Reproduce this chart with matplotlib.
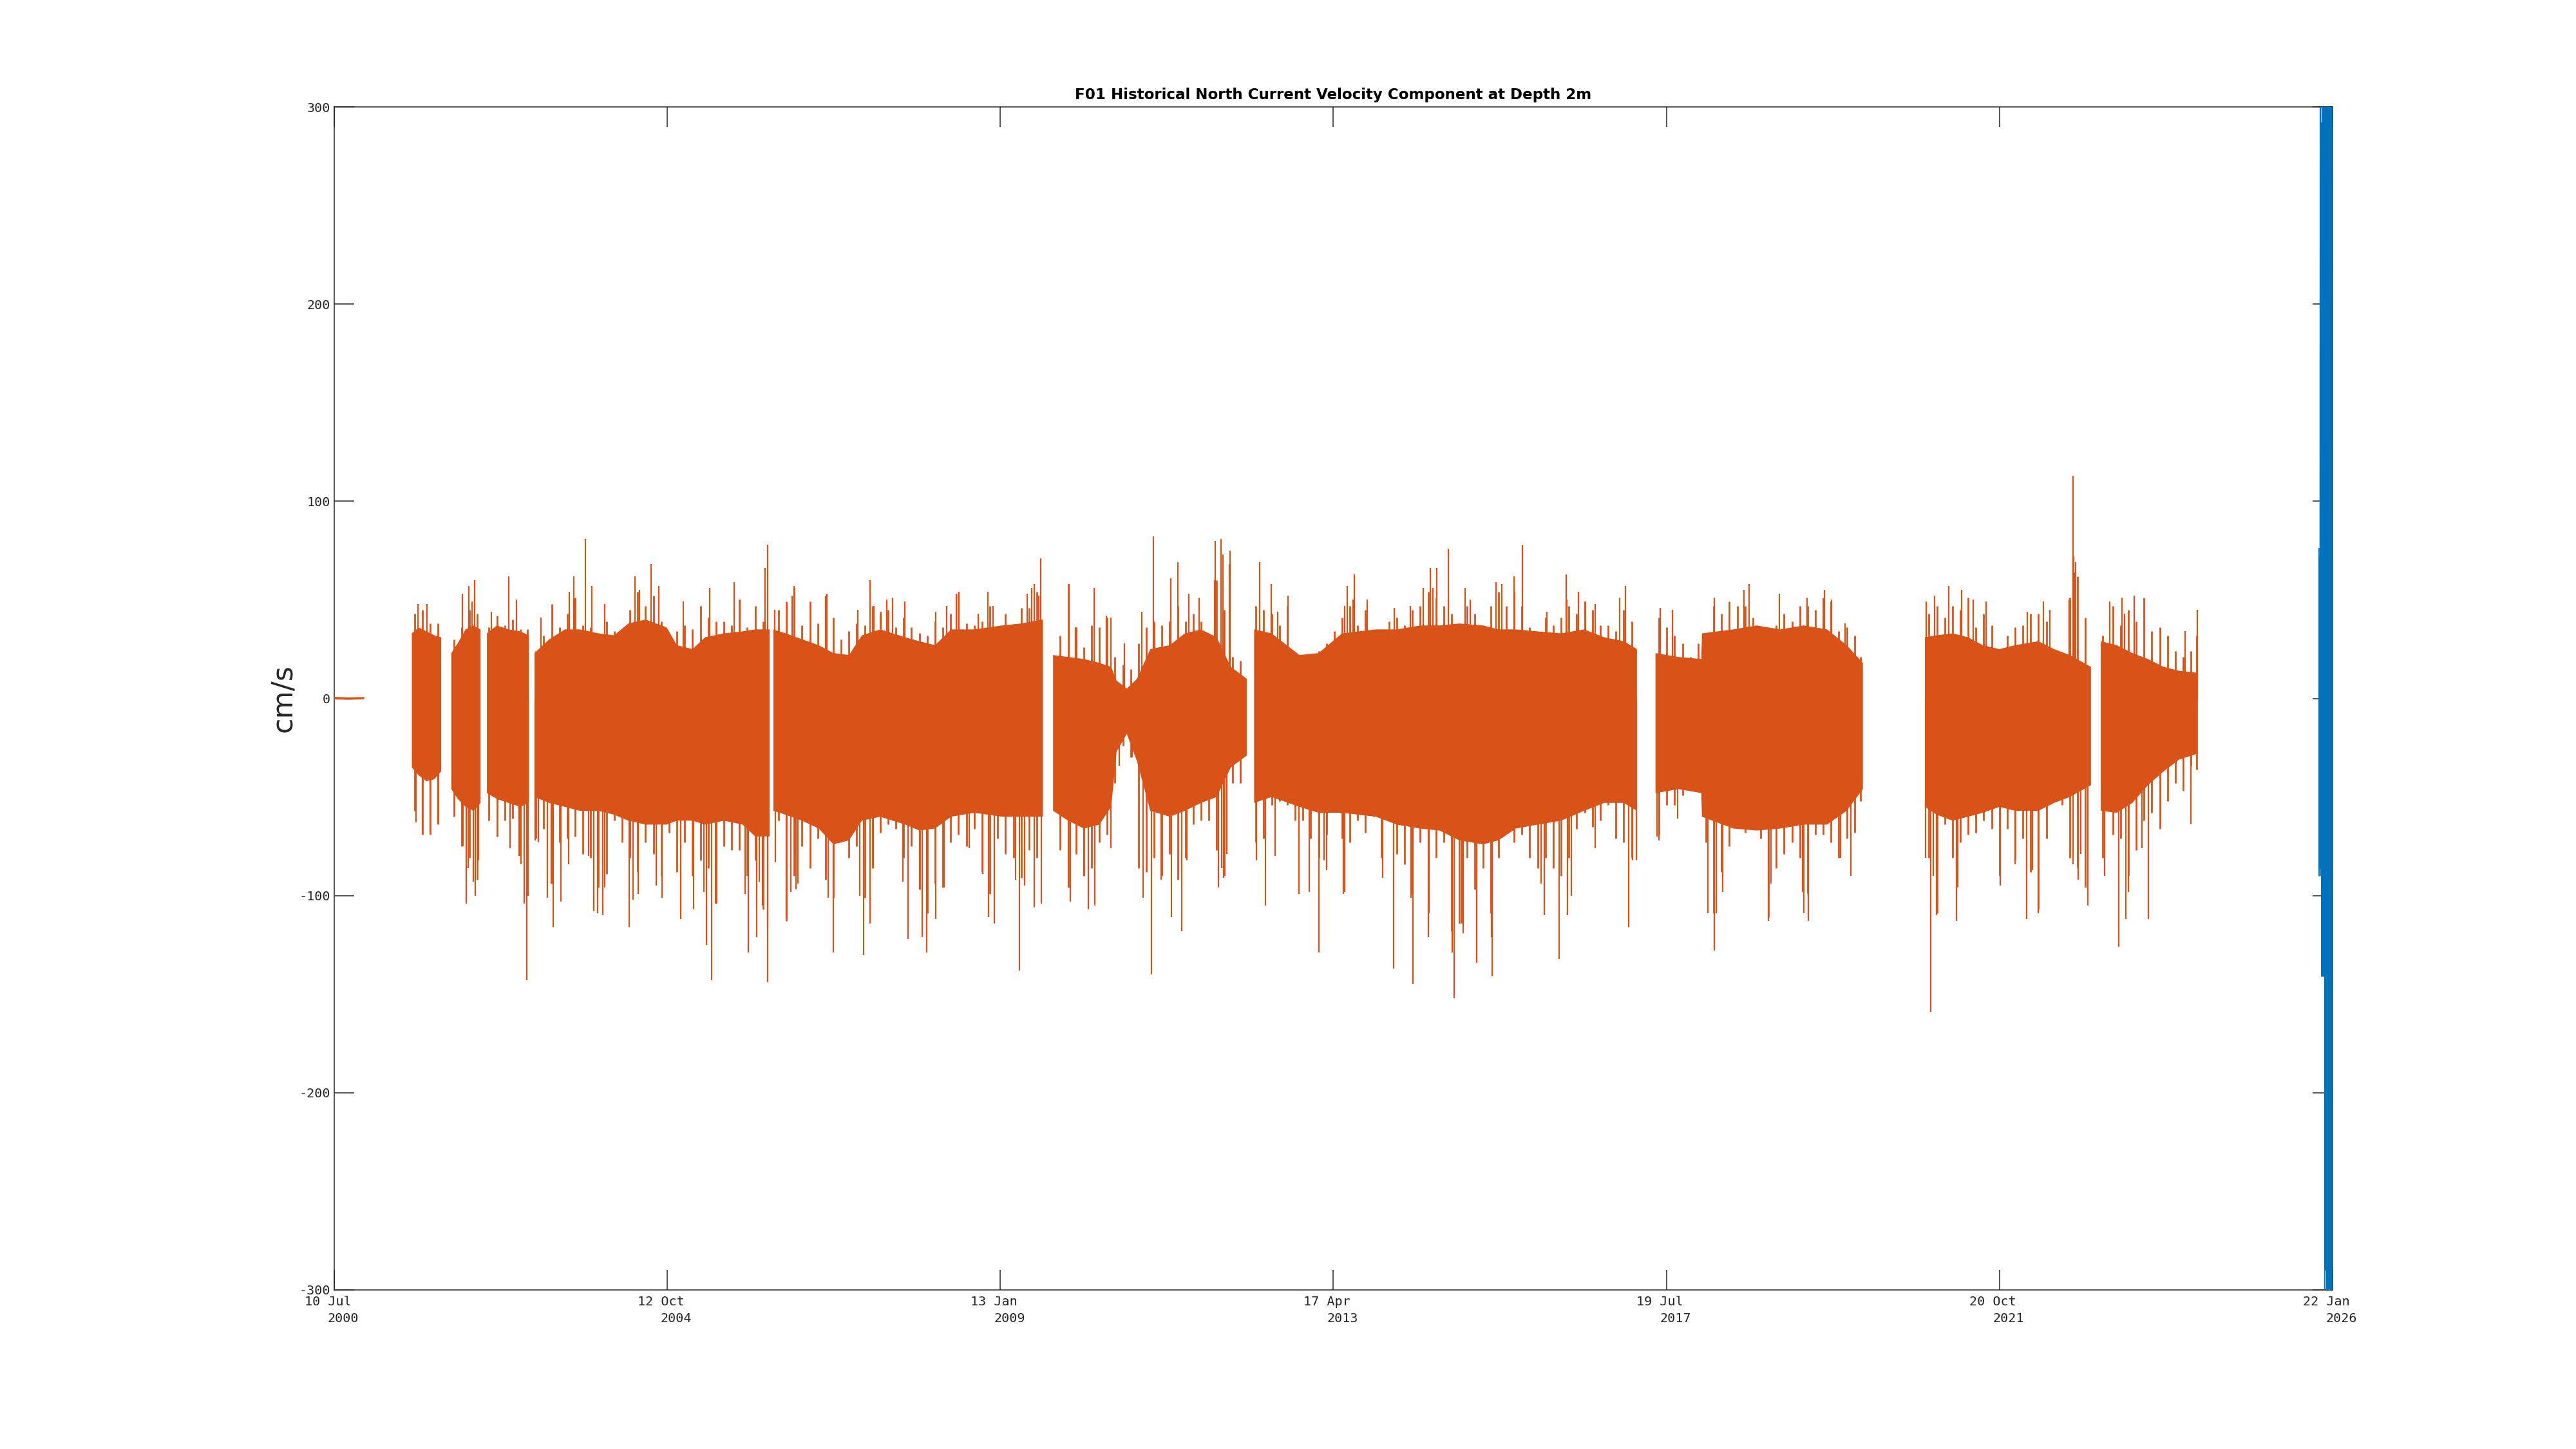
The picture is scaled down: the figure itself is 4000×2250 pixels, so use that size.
#!/usr/bin/env python3

from datetime import datetime

import numpy as np
import matplotlib
matplotlib.use("Agg")
import matplotlib.pyplot as plt
import matplotlib.dates as mdates
from matplotlib.transforms import ScaledTranslation, blended_transform_factory

OUTPUT_FNAME = "out.png"

ORANGE = "#D95319"
BLUE = "#0072BD"
AXIS_COLOR = "#262626"

TITLE = "F01 Historical North Current Velocity Component at Depth 2m"
YLABEL = "cm/s"

x_start = datetime(2000, 7, 10)
x_end = datetime(2026, 1, 22)
tick_days = ["10 Jul", "12 Oct", "13 Jan", "17 Apr", "19 Jul", "20 Oct", "22 Jan"]
tick_years = ["2000", "2004", "2009", "2013", "2017", "2021", "2026"]
y_ticks = [-300, -200, -100, 0, 100, 200, 300]
y_tick_labels = ["-300", "-200", "-100", "0", "100", "200", "300"]

# historical record: solid band (decimal year, upper, lower), nan = gap between deployments
env_t = [2000.521, 2000.7, 2000.905, np.nan,
         2001.513, 2001.6, 2001.7, 2001.8, 2001.888, np.nan,
         2002.018, 2002.1, 2002.2, 2002.3, 2002.392, np.nan,
         2002.473, 2002.6, 2002.75, 2002.9, 2003.010, np.nan,
         2003.082, 2003.27, 2003.47, 2003.66, 2003.9, 2004.1, 2004.28, 2004.5,
         2004.77, 2004.9, 2005.1, 2005.26, 2005.5, 2005.74, 2005.9, 2006.085, np.nan,
         2006.134, 2006.29, 2006.5, 2006.713, 2006.9, 2007.1, 2007.266, 2007.5,
         2007.82, 2008.0, 2008.2, 2008.405, 2008.7, 2009.056, 2009.3, 2009.577, np.nan,
         2009.707, 2009.9, 2010.1, 2010.3, 2010.45, 2010.52, 2010.65, 2010.781,
         2010.95, 2011.2, 2011.392, 2011.6, 2011.8, 2011.98, 2012.183, np.nan,
         2012.277, 2012.5, 2012.856, 2013.1, 2013.4, 2013.833, 2014.1, 2014.4,
         2014.646, 2014.9, 2015.2, 2015.4, 2015.622, 2015.9, 2016.2, 2016.494,
         2016.75, 2017.0, 2017.168, np.nan,
         2017.405, 2017.7, 2017.99, 2018.0, 2018.4, 2018.7, 2019.0, 2019.3,
         2019.6, 2019.85, 2020.057, np.nan,
         2020.848, 2021.0, 2021.2, 2021.4, 2021.589, 2021.8, 2022.0, 2022.3,
         2022.5, 2022.7, 2022.971, np.nan,
         2023.096, 2023.3, 2023.5, 2023.7, 2023.9, 2024.1, 2024.332]
env_hi = [0.8, 0.5, 0.7, np.nan,
          33, 36, 34, 32, 31, np.nan,
          23, 28, 35, 37, 35, np.nan,
          33, 37, 35, 34, 32, np.nan,
          23, 30, 35, 35, 33, 32, 38, 40, 36, 27, 25, 31, 33, 34, 35, 35, np.nan,
          35, 33, 30, 27, 23, 22, 32, 35, 31, 29, 27, 35, 35, 37, 38, 40, np.nan,
          22, 21, 20, 18, 16, 9, 5, 10, 25, 27, 33, 35, 31, 16, 10, np.nan,
          35, 33, 22, 23, 33, 35, 35, 37, 37, 38, 37, 35, 35, 34, 33, 35, 31, 29, 25, np.nan,
          23, 21, 20, 33, 35, 37, 35, 37, 35, 27, 18, np.nan,
          31, 32, 33, 31, 27, 25, 27, 29, 25, 22, 16, np.nan,
          29, 27, 23, 20, 16, 14, 13]
env_lo = [-0.5, -0.7, -0.4, np.nan,
          -35, -39, -42, -41, -37, np.nan,
          -46, -51, -55, -57, -53, np.nan,
          -48, -51, -53, -55, -53, np.nan,
          -50, -53, -55, -57, -57, -59, -62, -64, -64, -62, -62, -64, -62, -64, -70, -70, np.nan,
          -57, -59, -62, -66, -74, -72, -62, -60, -64, -67, -66, -60, -58, -60, -60, -60, np.nan,
          -57, -62, -66, -64, -55, -27, -18, -32, -57, -60, -57, -53, -50, -35, -29, np.nan,
          -53, -50, -55, -58, -58, -60, -64, -66, -67, -72, -74, -72, -66, -64, -62, -57, -53, -53, -57, np.nan,
          -48, -46, -48, -60, -66, -67, -66, -64, -64, -57, -46, np.nan,
          -55, -59, -62, -60, -58, -55, -57, -57, -53, -50, -44, np.nan,
          -57, -58, -53, -44, -37, -31, -28]

# column extremes about every 0.1 yr, giving the ragged edge of the band
fuzz_t = [2001.55, 2001.65, 2001.75, 2001.85,
          2002.05, 2002.15, 2002.25, 2002.35,
          2002.5, 2002.6, 2002.7, 2002.8, 2002.9, 2002.99,
          2003.1, 2003.2, 2003.3, 2003.4, 2003.5, 2003.6, 2003.7, 2003.8, 2003.9, 2004.0,
          2004.1, 2004.2, 2004.3, 2004.4, 2004.5, 2004.6, 2004.7, 2004.8, 2004.9, 2005.0,
          2005.1, 2005.2, 2005.3, 2005.4, 2005.5, 2005.6, 2005.7, 2005.8, 2005.9, 2006.0,
          2006.2, 2006.3, 2006.4, 2006.5, 2006.6, 2006.7, 2006.8, 2006.9, 2007.0, 2007.1,
          2007.2, 2007.3, 2007.4, 2007.5, 2007.6, 2007.7, 2007.8, 2007.9, 2008.0, 2008.1,
          2008.2, 2008.3, 2008.4, 2008.5, 2008.6, 2008.7, 2008.8, 2008.9, 2009.0, 2009.1,
          2009.2, 2009.3, 2009.4, 2009.5,
          2009.8, 2009.9, 2010.0, 2010.1, 2010.2, 2010.3, 2010.4, 2010.5, 2010.6, 2010.7,
          2010.8, 2010.9, 2011.0, 2011.1, 2011.2, 2011.3, 2011.4, 2011.5, 2011.6, 2011.7,
          2011.8, 2011.9, 2012.0, 2012.1,
          2012.3, 2012.4, 2012.5, 2012.6, 2012.7, 2012.8, 2012.9, 2013.0, 2013.1, 2013.2,
          2013.3, 2013.4, 2013.5, 2013.6, 2013.7, 2013.8, 2013.9, 2014.0, 2014.1, 2014.2,
          2014.3, 2014.4, 2014.5, 2014.6, 2014.7, 2014.8, 2014.9, 2015.0, 2015.1, 2015.2,
          2015.3, 2015.4, 2015.5, 2015.6, 2015.7, 2015.8, 2015.9, 2016.0, 2016.1, 2016.2,
          2016.3, 2016.4, 2016.5, 2016.6, 2016.7, 2016.8, 2016.9, 2017.0, 2017.1,
          2017.45, 2017.55, 2017.65, 2017.75, 2017.85, 2017.95, 2018.05, 2018.15, 2018.25,
          2018.35, 2018.45, 2018.55, 2018.65, 2018.75, 2018.85, 2018.95, 2019.05, 2019.15,
          2019.25, 2019.35, 2019.45, 2019.55, 2019.65, 2019.75, 2019.85, 2019.95, 2020.03,
          2020.9, 2021.0, 2021.1, 2021.2, 2021.3, 2021.4, 2021.5, 2021.6, 2021.7, 2021.8,
          2021.9, 2022.0, 2022.1, 2022.2, 2022.3, 2022.4, 2022.5, 2022.6, 2022.7, 2022.8,
          2022.9,
          2023.12, 2023.25, 2023.35, 2023.45, 2023.55, 2023.65, 2023.75, 2023.85, 2023.95,
          2024.05, 2024.15, 2024.25, 2024.32]
fuzz_hi = [43, 45, 38, 38,
           30, 36, 45, 43,
           36, 42, 37, 40, 35, 35,
           24, 32, 48, 36, 43, 51, 37, 36, 32, 39,
           34, 32, 45, 54, 47, 52, 39, 24, 34, 37,
           35, 47, 41, 39, 39, 37, 50, 36, 47, 39,
           45, 49, 56, 37, 49, 38, 52, 41, 30, 34,
           38, 37, 47, 43, 45, 36, 41, 36, 33, 32,
           39, 36, 43, 53, 38, 37, 39, 47, 36, 43,
           37, 46, 46, 54,
           32, 58, 36, 26, 37, 36, 41, 21, 17, 15,
           28, 36, 39, 37, 39, 47, 39, 43, 39, 26,
           60, 45, 21, 19,
           47, 45, 43, 37, 47, 21, 17, 21, 24, 28,
           34, 41, 47, 37, 45, 34, 32, 39, 41, 37,
           45, 47, 54, 51, 47, 43, 37, 47, 43, 37,
           47, 54, 47, 54, 47, 36, 32, 41, 37, 41,
           47, 43, 49, 45, 37, 37, 34, 45, 39,
           41, 36, 32, 28, 21, 28, 32, 47, 43,
           49, 47, 47, 41, 32, 34, 37, 43, 39,
           47, 47, 45, 51, 49, 34, 36, 32, 21,
           43, 47, 41, 47, 45, 51, 36, 43, 37, 21,
           32, 36, 37, 43, 43, 39, 22, 21, 51, 62,
           41,
           32, 47, 37, 45, 39, 51, 34, 36, 32,
           24, 21, 24, 32]
fuzz_lo = [-57, -69, -69, -64,
           -60, -75, -81, -92,
           -62, -70, -62, -61, -80, -70,
           -71, -66, -94, -73, -71, -70, -79, -81, -96, -89,
           -62, -73, -81, -88, -73, -79, -90, -68, -88, -73,
           -90, -82, -86, -104, -75, -77, -77, -90, -82, -107,
           -62, -113, -90, -75, -86, -71, -92, -101, -73, -81,
           -75, -101, -86, -68, -64, -66, -81, -75, -97, -109,
           -94, -96, -73, -69, -75, -66, -88, -99, -71, -79,
           -81, -91, -77, -81,
           -77, -96, -79, -90, -86, -73, -69, -43, -24, -30,
           -86, -88, -81, -90, -79, -92, -81, -64, -62, -62,
           -77, -90, -43, -43,
           -73, -71, -54, -52, -54, -62, -62, -71, -81, -69,
           -54, -71, -73, -62, -68, -60, -81, -62, -79, -84,
           -99, -73, -88, -81, -73, -118, -114, -81, -97, -86,
           -109, -81, -66, -73, -69, -81, -86, -81, -86, -90,
           -81, -66, -58, -65, -62, -54, -71, -73, -81,
           -69, -54, -54, -49, -43, -47, -73, -109, -88,
           -75, -62, -68, -66, -71, -111, -86, -79, -73,
           -81, -99, -69, -69, -73, -81, -71, -68, -52,
           -81, -109, -64, -81, -73, -69, -68, -62, -66, -90,
           -66, -82, -71, -88, -107, -71, -52, -54, -81, -86,
           -96,
           -81, -69, -71, -90, -77, -62, -58, -66, -52,
           -43, -47, -34, -36]

# individual excursions well outside the band (decimal year, cm/s)
spike_t = [2001.595, 2001.709, 2002.158, 2002.239, 2002.285, 2002.314, 2002.529, 2002.750,
           2002.848, 2003.166, 2003.524, 2003.583, 2003.603, 2003.729, 2003.817, 2003.977,
           2004.367, 2004.426, 2004.572, 2004.670, 2004.979, 2005.321, 2005.630, 2005.708,
           2006.027, 2006.056, 2006.151,
           2001.569, 2001.650, 2001.748, 2001.849, 2002.171, 2002.207, 2002.236, 2002.301,
           2002.320, 2002.363, 2002.766, 2002.880, 2002.906, 2002.952, 2002.984, 2003.001,
           2003.092, 2003.131, 2003.245, 2003.297, 2003.319, 2003.417, 2003.521, 2003.775,
           2003.843, 2003.892, 2003.951, 2003.980, 2004.289, 2004.338, 2004.410, 2004.637,
           2004.712, 2004.947, 2005.109, 2005.246, 2005.275, 2005.347, 2005.396, 2005.773,
           2005.812, 2005.919, 2005.952, 2005.994, 2006.059, 2006.063, 2006.157,
           2006.310, 2006.375, 2006.397, 2006.798, 2006.820, 2007.217, 2007.370, 2007.419,
           2007.510, 2007.585, 2007.657, 2007.813, 2008.210, 2008.347, 2008.470, 2008.503,
           2008.753, 2008.877, 2008.942, 2009.372, 2009.437, 2009.469, 2009.525, 2009.551,
           2009.912, 2009.993, 2010.234, 2010.390, 2010.446, 2010.618, 2010.839, 2010.986,
           2011.210, 2011.301,
           2006.297, 2006.355, 2006.420, 2006.446, 2006.833, 2006.899, 2007.234, 2007.289,
           2007.370, 2007.413, 2007.787, 2007.859, 2008.005, 2008.037, 2008.090, 2008.210,
           2008.314, 2008.633, 2008.806, 2008.884, 2008.958, 2009.229, 2009.277, 2009.342,
           2009.469, 2009.557, 2009.902, 2009.925, 2010.097, 2010.162, 2010.237, 2010.449,
           2010.553, 2010.716, 2010.856, 2010.966, 2011.093, 2011.223, 2011.350,
           2011.441, 2011.577, 2011.769, 2011.782, 2011.854, 2011.880, 2011.965, 2011.971,
           2012.345, 2012.498, 2012.580, 2012.710, 2013.432, 2013.465, 2013.540, 2013.553,
           2013.719, 2014.067, 2014.275, 2014.435, 2014.529, 2014.562, 2014.607, 2014.760,
           2014.975, 2015.043, 2015.369, 2015.443, 2015.600, 2015.707, 2016.016, 2016.263,
           2016.270, 2016.420,
           2011.418, 2011.822, 2011.864, 2011.890, 2011.929, 2012.303, 2012.420, 2012.544,
           2012.847, 2012.983, 2013.104, 2013.169, 2013.205, 2013.419, 2013.436, 2013.917,
           2014.057, 2014.282, 2014.304, 2014.503, 2014.516, 2014.806, 2014.832, 2014.933,
           2014.949, 2015.118, 2015.307, 2015.317, 2015.948, 2015.987, 2016.172, 2016.280,
           2016.335,
           2016.510, 2016.631, 2016.950, 2017.021, 2017.467, 2017.620, 2018.154, 2018.534,
           2018.599, 2018.993, 2019.341, 2019.569, 2019.660, 2019.826, 2020.864, 2020.968,
           2021.154, 2021.317,
           2016.634, 2017.060, 2017.109, 2017.164, 2017.421, 2017.447, 2017.685, 2018.076,
           2018.160, 2018.186, 2018.264, 2018.853, 2018.886, 2019.286, 2019.299, 2019.361,
           2019.768, 2019.901, 2020.858, 2020.920, 2020.952, 2020.998, 2021.252, 2021.271,
           2021.462, 2021.631, 2022.155, 2022.363, 2022.441, 2022.695, 2022.738, 2022.751,
           2022.767, 2022.777, 2023.209, 2023.366, 2023.401, 2023.525, 2024.176, 2024.332,
           2021.810, 2021.999, 2022.145, 2022.223, 2022.298, 2022.738, 2022.809, 2022.842,
           2022.933, 2023.141, 2023.330, 2023.418, 2023.450, 2023.626, 2023.701, 2024.248]
spike_v = [48, 48, 53, 57, 49, 60, 44, 62,
           50, 41, 54, 62, 50, 81, 57, 48,
           62, 55, 68, 57, 49, 56, 59, 50,
           66, 78, 45,
           -63, -67, -67, -64, -75, -104, -86, -93,
           -100, -82, -76, -80, -84, -104, -143, -100,
           -72, -73, -101, -94, -116, -103, -84, -80,
           -108, -109, -110, -96, -116, -102, -99, -95,
           -101, -112, -107, -98, -125, -143, -104, -99,
           -129, -121, -93, -105, -116, -144, -83,
           48, 52, 57, 52, 53, 45, 60, 47,
           44, 50, 51, 49, 44, 47, 53, 54,
           43, 54, 47, 53, 56, 58, 52, 71,
           58, 36, 56, 42, 41, 28, 44, 82,
           61, 69,
           -112, -98, -97, -94, -101, -129, -100, -130,
           -114, -86, -93, -122, -97, -121, -129, -112,
           -96, -76, -89, -111, -114, -92, -138, -95,
           -106, -104, -96, -103, -90, -107, -105, -76,
           -34, -30, -101, -140, -92, -111, -118,
           53, 51, 60, 80, 81, 73, 68, 75,
           69, 58, 44, 52, 47, 57, 50, 63,
           50, 46, 47, 56, 66, 56, 66, 76,
           56, 50, 59, 58, 62, 78, 44, 63,
           50, 54,
           -82, -96, -86, -91, -79, -82, -105, -80,
           -99, -98, -129, -82, -87, -99, -98, -91,
           -137, -101, -145, -121, -109, -129, -152, -114,
           -119, -134, -121, -141, -94, -110, -132, -110,
           -100,
           49, 48, 51, 57, 46, 45, 51, 55,
           58, 53, 51, 55, 50, 38, 49, 52,
           57, 55,
           -76, -116, -82, -82, -70, -72, -61, -109,
           -128, -109, -98, -113, -94, -98, -109, -113,
           -81, -90, -81, -159, -90, -110, -113, -96,
           50, 49, 44, 49, 45, 50, 113, 72,
           64, 69, 49, 51, 43, 52, 34, 45,
           -95, -84, -112, -87, -109, -84, -92, -79,
           -105, -90, -126, -112, -98, -76, -112, -64]

# latest deployment (decimal year, cm/s)
blue_t = [2025.883, 2025.887, 2025.891, 2025.895, 2025.899, 2025.903, 2025.907, 2025.911,
          2025.915, 2025.919, 2025.923, 2025.927, 2025.931, 2025.935, 2025.939, 2025.943,
          2025.947, 2025.951, 2025.955, 2025.959, 2025.963, 2025.967, 2025.971, 2025.975,
          2025.979, 2025.983, 2025.987, 2025.991, 2025.995, 2025.999, 2026.003, 2026.007,
          2026.011, 2026.015, 2026.019, 2026.023, 2026.027, 2026.031, 2026.035, 2026.039,
          2026.043, 2026.047, 2026.051, 2026.055]
blue_v = [76, -90, 72, -86, 300, -62, 292, -90, 240, -141, 300, -132, 282, -141, 300, -104,
          296, -141, 300, -300, 272, -290, 300, -282, 262, -300, 300, -296, 290, -300, 300, -272,
          300, -300, 286, -300, 300, -292, 300, -300, 282, -300, 300, -300]


def to_num(years):
    out = []
    for y in years:
        if np.isnan(y):
            out.append(np.nan)
            continue
        yi = int(y)
        start = datetime(yi, 1, 1)
        end = datetime(yi + 1, 1, 1)
        out.append(mdates.date2num(start + (end - start) * (y - yi)))
    return np.array(out)


def main():
    fig = plt.figure(figsize=(40, 22.5), dpi=100)
    ax = fig.add_axes([0.12975, 0.10978, 0.77575, 0.81644])

    lw = 1.1
    ax.fill_between(to_num(env_t), np.array(env_lo, dtype=float), np.array(env_hi, dtype=float),
                    color=ORANGE, linewidth=0, zorder=3)
    ax.vlines(to_num(fuzz_t), fuzz_lo, fuzz_hi, colors=ORANGE, linewidth=2.0, zorder=3)
    ax.vlines(to_num(spike_t), 0, spike_v, colors=ORANGE, linewidth=1.6, zorder=3)
    ax.plot(to_num(blue_t), blue_v, color=BLUE, linewidth=lw, zorder=3)

    xmin = mdates.date2num(x_start)
    xmax = mdates.date2num(x_end)
    ax.set_xlim(xmin, xmax)
    ax.set_ylim(-300, 300)

    xticks = np.linspace(xmin, xmax, len(tick_days))
    ax.set_xticks(xticks)
    ax.set_yticks(y_ticks)
    ax.set_yticklabels(y_tick_labels, family="DejaVu Sans Mono", fontsize=14.5, color=AXIS_COLOR)

    ax.tick_params(axis="both", direction="in", length=22.3, width=lw, color=AXIS_COLOR,
                   top=True, right=True, labelbottom=False)
    ax.tick_params(axis="y", pad=4.3)
    for spine in ax.spines.values():
        spine.set_color(AXIS_COLOR)
        spine.set_linewidth(lw)

    trans = blended_transform_factory(ax.transData, ax.transAxes)
    for x, day, year in zip(xticks, tick_days, tick_years):
        ax.text(x, 0, day, transform=trans + ScaledTranslation(-10 / 100, -9 / 100, fig.dpi_scale_trans),
                ha="center", va="top", family="DejaVu Sans Mono", fontsize=14.5, color=AXIS_COLOR)
        ax.text(x, 0, year, transform=trans + ScaledTranslation(14 / 100, -35.5 / 100, fig.dpi_scale_trans),
                ha="center", va="top", family="DejaVu Sans Mono", fontsize=14.5, color=AXIS_COLOR)

    ax.set_title(TITLE, fontsize=16.6, fontweight="bold", color="black", pad=9)
    ax.set_ylabel(YLABEL, fontsize=32, color=AXIS_COLOR)
    ax.yaxis.set_label_coords(-0.0187, 0.5)

    plt.savefig(OUTPUT_FNAME, dpi=100)
    plt.close()


if __name__ == "__main__":
    main()
